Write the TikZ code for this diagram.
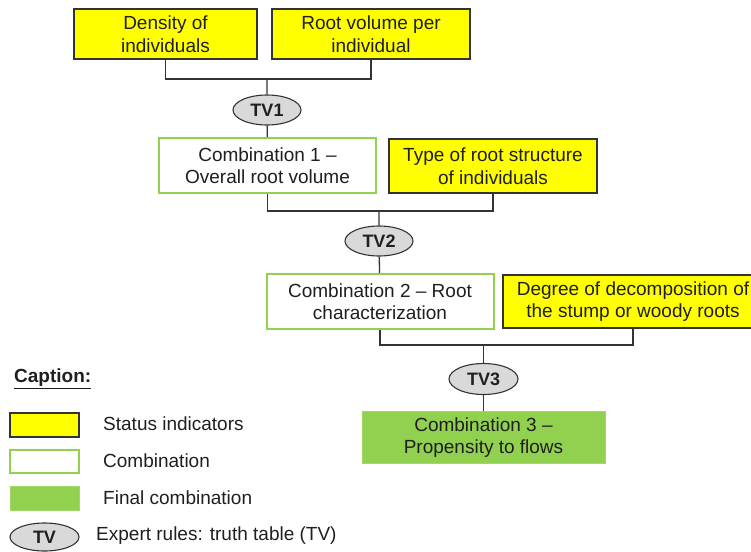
\documentclass[tikz,border=0pt]{standalone}
\usepackage{fontspec}
\setmainfont{Liberation Sans}
\usetikzlibrary{shapes.geometric}
\definecolor{indyellow}{HTML}{FFFF00}
\definecolor{combgreen}{HTML}{92D050}
\definecolor{tvgray}{HTML}{D9D9D9}
\definecolor{linegray}{HTML}{333333}
\tikzset{
  every node/.style={font=\fontsize{19}{22.5}\selectfont, text=black!88},
  indicator/.style={draw=linegray, line width=1.1pt, fill=indyellow, align=center, inner sep=0pt},
  combo/.style={draw=combgreen, line width=2pt, fill=white, align=center, inner sep=0pt},
  finalcombo/.style={draw=combgreen!85, line width=1pt, fill=combgreen, align=center, inner sep=0pt},
  truth/.style={ellipse, draw=linegray, line width=1.1pt, fill=tvgray, inner sep=0pt, font=\fontsize{18}{20}\selectfont\bfseries},
  link/.style={draw=linegray, line width=1.3pt},
  legtext/.style={anchor=west, inner sep=0pt}
}
\begin{document}
\begin{tikzpicture}[x=1pt, y=-1pt]
  \useasboundingbox (0,0) rectangle (751,551);
  % status indicators and combinations
  \node [indicator, minimum width=183pt, minimum height=50pt] (dens) at (165.5,34) {Density of\\individuals};
  \node [indicator, minimum width=198pt, minimum height=50pt] (rvol) at (371,34) {Root volume per\\individual};
  \node [truth, minimum width=68pt, minimum height=30pt] (tv1) at (267,110) {TV1};
  \node [combo, minimum width=217pt, minimum height=55pt] (comb1) at (267.5,165.5) {Combination 1 --\\Overall root volume};
  \node [indicator, minimum width=208pt, minimum height=54pt] (rtype) at (493,166) {Type of root structure\\of individuals};
  \node [truth, minimum width=68pt, minimum height=30pt] (tv2) at (379,241) {TV2};
  \node [combo, minimum width=227pt, minimum height=55pt] (comb2) at (380,301.5) {Combination 2 -- Root\\characterization};
  \node [indicator, minimum width=260pt, minimum height=53pt] (decomp) at (633,301.5) {Degree of decomposition of\\the stump or woody roots};
  \node [truth, minimum width=69pt, minimum height=31pt] (tv3) at (483.5,379) {TV3};
  \node [finalcombo, minimum width=243pt, minimum height=52pt] (comb3) at (483.5,437.5) {Combination 3 --\\Propensity to flows};
  % junctions
  \coordinate (j1) at (267,79);
  \coordinate (j2) at (379,211);
  \coordinate (j3) at (483.5,345);
  \draw [link] (dens.south) |- (j1) -| (rvol.south);
  \draw [link] (j1) -- (tv1) -- (comb1);
  \draw [link] (comb1.south) |- (j2) -| (rtype.south);
  \draw [link] (j2) -- (tv2) -- (comb2);
  \draw [link] (comb2.south) |- (j3) -| (decomp.south);
  \draw [link] (j3) -- (tv3) -- (comb3);
  % caption
  \node [legtext, font=\fontsize{19}{22.5}\selectfont\bfseries] (caption) at (14,379) {\underline{Caption:}};
  \node [indicator, minimum width=69pt, minimum height=24pt] (legstatus) at (44.5,425) {};
  \node [combo, minimum width=69pt, minimum height=23pt] (legcomb) at (44.5,461.5) {};
  \node [finalcombo, minimum width=69pt, minimum height=24pt] (legfinal) at (44.5,498) {};
  \node [truth, minimum width=69pt, minimum height=28pt] (legtv) at (44.5,537) {TV};
  \node [legtext] (txtstatus) at (103,424) {Status indicators};
  \node [legtext] (txtcomb) at (103,461) {Combination};
  \node [legtext] (txtfinal) at (103,498) {Final combination};
  \node [legtext] (txttv) at (96,536) {Expert rules: truth table (TV)};
\end{tikzpicture}
\end{document}
